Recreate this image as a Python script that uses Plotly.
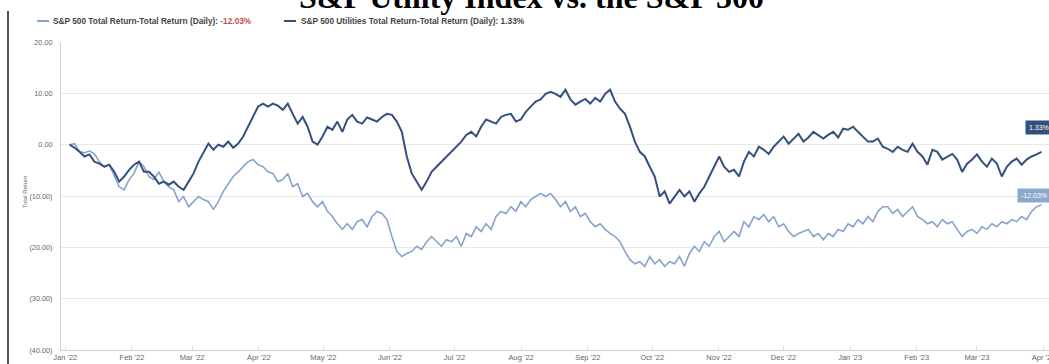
import pandas as pd
import plotly.graph_objects as go

# ---- data ----
start_date = "2022-01-03"
end_date = "2023-03-31"

sp500_total_return = [
    0.0, 0.2, -1.4, -1.6, -1.2, -1.8, -3.3, -4.3, -3.9, -6.2,
    -8.2, -8.8, -6.8, -5.6, -3.3, -4.3, -6.2, -6.8, -5.3, -7.2,
    -8.2, -8.8, -11.1, -10.1, -12.1, -11.1, -10.1, -10.7, -11.1, -12.6,
    -11.1, -9.1, -7.6, -6.2, -5.3, -4.3, -3.3, -2.9, -3.9, -4.3,
    -5.3, -5.6, -7.2, -6.8, -5.6, -8.2, -7.6, -10.1, -9.5, -11.1,
    -12.1, -11.1, -13.0, -14.0, -15.4, -16.5, -15.4, -16.5, -15.0, -14.6,
    -16.0, -14.0, -13.0, -13.4, -14.6, -17.9, -20.8, -21.8, -21.2, -20.8,
    -19.8, -20.4, -18.9, -17.9, -18.9, -19.8, -18.5, -18.9, -17.9, -19.8,
    -17.3, -17.9, -16.0, -16.9, -15.4, -16.5, -14.0, -13.0, -13.4, -12.1,
    -13.0, -11.1, -12.1, -10.7, -10.1, -9.5, -10.1, -9.5, -10.7, -12.1,
    -11.1, -13.0, -12.1, -14.0, -13.4, -15.0, -16.0, -15.4, -16.5, -17.3,
    -17.9, -18.9, -20.8, -22.4, -23.2, -22.8, -23.7, -21.8, -23.2, -22.4,
    -23.7, -22.8, -23.2, -21.8, -23.7, -21.2, -19.8, -20.8, -18.9, -19.8,
    -17.9, -16.9, -18.9, -17.9, -16.9, -17.9, -15.0, -16.0, -14.0, -14.6,
    -13.6, -15.0, -14.0, -16.0, -15.4, -16.9, -17.9, -17.3, -16.9, -16.5,
    -17.9, -17.3, -18.5, -17.3, -17.9, -16.5, -16.9, -15.4, -16.0, -14.6,
    -15.4, -14.0, -15.0, -13.0, -12.1, -12.1, -13.4, -12.6, -14.0, -13.0,
    -12.1, -14.0, -14.6, -15.4, -15.0, -16.0, -14.6, -15.4, -15.0, -16.5,
    -17.9, -16.9, -16.5, -17.3, -16.0, -16.5, -15.4, -16.0, -15.0, -15.4,
    -14.6, -15.0, -14.0, -14.6, -13.0, -12.1, -11.7,
]

utilities_total_return = [
    0.0, -0.6, -1.4, -2.3, -1.9, -3.3, -3.7, -4.3, -3.9, -5.3,
    -7.2, -6.2, -4.9, -3.9, -3.3, -5.3, -5.3, -6.2, -7.6, -7.2,
    -7.8, -7.2, -8.2, -8.8, -7.2, -5.6, -3.3, -1.4, 0.2, -1.0,
    0.0, -0.4, 0.6, -0.6, 0.2, 1.6, 3.5, 5.4, 7.4, 8.0,
    7.4, 8.0, 7.6, 6.8, 8.0, 6.0, 4.1, 5.4, 3.5, 0.6,
    0.0, 1.6, 3.5, 2.9, 4.5, 2.5, 4.9, 5.8, 4.5, 4.1,
    5.3, 4.9, 4.5, 5.4, 6.0, 5.8, 4.5, 2.5, -2.3, -5.6,
    -7.2, -8.8, -7.2, -5.3, -4.3, -3.3, -2.3, -1.4, -0.4, 0.6,
    1.9, 2.5, 1.6, 3.5, 4.9, 4.5, 4.1, 5.4, 5.8, 6.0,
    4.5, 4.9, 6.4, 7.4, 8.4, 8.8, 9.9, 10.3, 9.9, 9.3,
    10.7, 8.8, 7.8, 8.4, 8.9, 8.0, 9.1, 8.4, 9.9, 10.7,
    8.4, 7.0, 6.0, 3.5, 0.6, -1.4, -2.3, -4.3, -6.2, -10.1,
    -9.1, -11.5, -10.1, -8.8, -10.1, -9.1, -11.1, -9.5, -8.2, -6.2,
    -4.3, -2.3, -4.3, -5.3, -4.9, -6.2, -3.3, -1.4, -2.3, -0.4,
    -1.0, -1.8, -0.4, 0.6, 1.6, 0.2, 1.2, 2.1, 0.6, 1.4,
    2.5, 1.9, 1.2, 1.9, 2.5, 1.4, 3.1, 2.9, 3.5, 2.5,
    1.6, 0.6, 0.6, 1.2, -0.4, -0.8, -1.4, -0.4, -1.0, -1.4,
    0.2, -1.4, -2.3, -3.9, -1.0, -1.4, -2.9, -2.3, -1.8, -2.9,
    -5.3, -3.7, -2.9, -1.9, -3.3, -4.3, -2.7, -3.7, -6.2, -4.3,
    -3.3, -2.7, -3.9, -2.9, -2.3, -1.9, -1.4,
]

dates = pd.date_range(start_date, end_date, periods=len(sp500_total_return))

y_tick_values = [20, 10, 0, -10, -20, -30, -40]
y_tick_labels = ["20.00", "10.00", "0.00", "(10.00)", "(20.00)", "(30.00)", "(40.00)"]

series_names = [
    "S&P 500 Total Return-Total Return (Daily): ",
    "S&P 500 Utilities Total Return-Total Return (Daily): ",
]
final_labels = ["-12.03%", "1.33%"]

LIGHT = "#86a4cb"
DARK = "#34507f"
FONT = "Liberation Sans, Arial, sans-serif"

fig = go.Figure()
fig.add_trace(go.Scatter(x=dates, y=sp500_total_return, mode="lines",
                         line=dict(color=LIGHT, width=1.6), showlegend=False,
                         name=series_names[0]))
fig.add_trace(go.Scatter(x=dates, y=utilities_total_return, mode="lines",
                         line=dict(color=DARK, width=2), showlegend=False,
                         name=series_names[1]))

fig.update_layout(
    width=1049, height=364,
    margin=dict(l=61, r=0, t=42, b=14),
    paper_bgcolor="white", plot_bgcolor="white",
    font=dict(family=FONT, size=7, color="#666"),
)

fig.update_xaxes(
    range=["2021-12-30", "2023-04-03 12:00"],
    tick0="2022-01-01", dtick="M1", tickformat="%b '%y",
    showgrid=False, showline=True, linecolor="#d0d0d0", linewidth=1,
    ticks="inside", ticklen=3, tickcolor="#d8d8d8",
    tickfont=dict(size=7.5, color="#666"), automargin=False,
    ticklabeloverflow="allow",
)
fig.update_yaxes(
    range=[-40, 20], tickvals=y_tick_values, ticktext=y_tick_labels,
    showgrid=True, gridcolor="#e8e8e8", gridwidth=1,
    showline=True, linecolor="#d0d0d0", linewidth=1,
    zeroline=False, ticks="", ticklabelstandoff=6,
    tickfont=dict(size=7.3, color="#666"), automargin=False,
)

# y-axis title
fig.add_annotation(xref="paper", yref="paper", x=(25 - 61) / 988, y=(350 - 192) / 308,
                   xanchor="center", yanchor="middle", showarrow=False, textangle=-90,
                   text="Total Return", font=dict(family=FONT, size=6, color="#666"))

# custom legend
fig.add_shape(type="line", xref="paper", yref="paper",
              x0=(37 - 61) / 988, x1=(49 - 61) / 988, y0=1 + 21 / 308, y1=1 + 21 / 308,
              line=dict(color=LIGHT, width=2))
fig.add_annotation(xref="paper", yref="paper", x=(51 - 61) / 988, y=1 + 21 / 308,
                   xanchor="left", yanchor="middle", showarrow=False,
                   text="<b>" + series_names[0] + f"<span style='color:#c0504d'>{final_labels[0]}</span></b>",
                   font=dict(family=FONT, size=8.3, color="#444"))
fig.add_shape(type="line", xref="paper", yref="paper",
              x0=(284 - 61) / 988, x1=(296 - 61) / 988, y0=1 + 21 / 308, y1=1 + 21 / 308,
              line=dict(color=DARK, width=2))
fig.add_annotation(xref="paper", yref="paper", x=(299 - 61) / 988, y=1 + 21 / 308,
                   xanchor="left", yanchor="middle", showarrow=False,
                   text="<b>" + series_names[1] + final_labels[1] + "</b>",
                   font=dict(family=FONT, size=8.3, color="#444"))

# title (cut off at the top like the reference)
fig.add_annotation(xref="paper", yref="paper", x=(531 - 61) / 988, y=1 + 45 / 308,
                   xanchor="center", yanchor="middle", showarrow=False,
                   text="<b>S&P Utility Index vs. the S&P 500</b>",
                   font=dict(family="Liberation Serif, Times New Roman, serif", size=32, color="black"))

# left border line
fig.add_shape(type="line", xref="paper", yref="paper",
              x0=(8 - 61) / 988, x1=(8 - 61) / 988, y0=-14 / 308, y1=1 + 31 / 308,
              line=dict(color="#555", width=2))

# end value labels
fig.add_annotation(x=dates[-1], y=utilities_total_return[-1], text=final_labels[1],
                   xanchor="left", yanchor="middle", xshift=-16, yshift=24, showarrow=False,
                   bgcolor=DARK, borderpad=3, font=dict(family=FONT, size=7, color="white"))
fig.add_annotation(x=dates[-1], y=sp500_total_return[-1], text=final_labels[0],
                   xanchor="left", yanchor="middle", xshift=-24, yshift=9, showarrow=False,
                   bgcolor="#8aa7cc", borderpad=3, font=dict(family=FONT, size=7, color="white"))

fig.write_html("out.html")
